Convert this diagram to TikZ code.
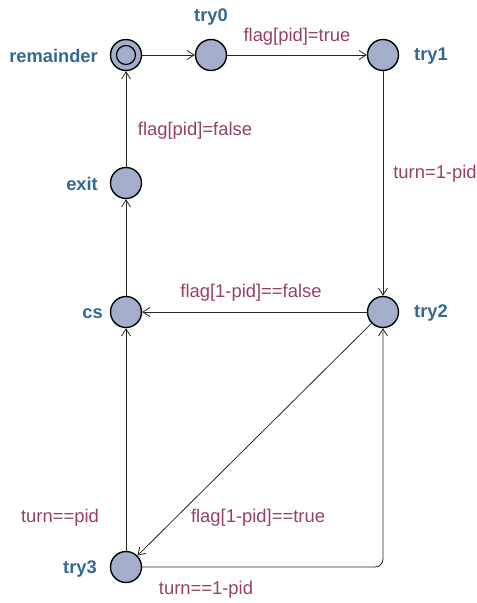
\documentclass[tikz,border=0pt]{standalone}
\usepackage{fontspec}
\setmainfont{Liberation Sans}
\usetikzlibrary{arrows.meta}

\definecolor{locfill}{RGB}{164,174,203}
\definecolor{locname}{RGB}{52,103,148}
\definecolor{guardcol}{RGB}{150,64,104}

\tikzset{
  loc/.style={circle, draw=black, line width=1.4pt, fill=locfill, minimum size=31pt, inner sep=0pt},
  lname/.style={text=locname, font=\fontsize{18.3}{18}\selectfont\bfseries, inner sep=0pt},
  guard/.style={text=guardcol, font=\fontsize{18.4}{18}\selectfont, inner sep=0pt},
  trans/.style={draw=black!85, line width=.8pt, -{Straight Barb[length=7pt,width=9pt]}}
}

\begin{document}
\begin{tikzpicture}[x=1pt,y=-1pt]
\useasboundingbox (0,0) rectangle (477,603);

% locations
\node [loc] (remainder) at (126,55) {};
\draw [line width=1.2pt] (remainder) circle (9.5pt);
\node [loc] (try0) at (211,55) {};
\node [loc] (try1) at (383,55) {};
\node [loc] (exit) at (126,183) {};
\node [loc] (cs) at (126,312) {};
\node [loc] (try2) at (383,312) {};
\node [loc] (try3) at (126,567) {};

% names
\node [lname, anchor=east] at (98,56) {remainder};
\node [lname] at (211,17) {try0};
\node [lname, anchor=west] at (414,56) {try1};
\node [lname, anchor=east] at (98,184) {exit};
\node [lname, anchor=east] at (103,314) {cs};
\node [lname, anchor=west] at (414,313) {try2};
\node [lname, anchor=east] at (97,569) {try3};

% transitions
\draw [trans] (remainder) -- (try0);
\draw [trans] (try0) -- (try1);
\draw [trans] (try1) -- (try2);
\draw [trans] (try2) -- (cs);
\draw [trans] (cs) -- (exit);
\draw [trans] (exit) -- (remainder);
\draw [trans] (try3) -- (cs);
\draw [trans] (try2) -- (try3);
\draw [trans, rounded corners=8pt] (try3) -| (try2);

% guards and updates
\node [guard] at (297,37) {flag[pid]=true};
\node [guard] at (195,131) {flag[pid]=false};
\node [guard] at (435,174) {turn=1-pid};
\node [guard] at (251,293) {flag[1-pid]==false};
\node [guard] at (258,518) {flag[1-pid]==true};
\node [guard] at (60,518) {turn==pid};
\node [guard] at (206,590) {turn==1-pid};

\end{tikzpicture}
\end{document}
